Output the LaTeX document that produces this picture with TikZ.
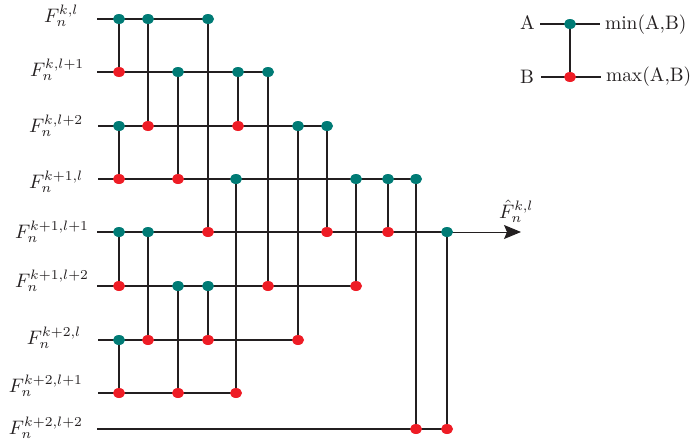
\documentclass[tikz,border=0pt]{standalone}
\usetikzlibrary{shapes.geometric,backgrounds,arrows.meta}
\definecolor{dotteal}{HTML}{007B75}
\definecolor{dotred}{HTML}{EE1C25}
\definecolor{wirecol}{HTML}{231F20}
\tikzset{
  lab/.style={anchor=base west,inner sep=0pt,outer sep=0pt,scale=1.95,text=wirecol},
  dotmin/.style={ellipse,fill=dotteal,minimum width=12pt,minimum height=10pt,inner sep=0pt},
  dotmax/.style={ellipse,fill=dotred,minimum width=12pt,minimum height=10pt,inner sep=0pt},
  wire/.style={draw=wirecol,line width=2pt},
  outarrow/.style={draw=wirecol,line width=1pt,-{Stealth[length=17pt,width=14pt,inset=3pt]}}
}
\begin{document}
\begin{tikzpicture}[x=1pt,y=-1pt]
\useasboundingbox (0,0) rectangle (691,442);
% labels
\node[lab] (l1) at (44,22) {$F_n^{k,l}$};
\node[lab] (l2) at (30,76) {$F_n^{k,l+1}$};
\node[lab] (l3) at (29,132) {$F_n^{k,l+2}$};
\node[lab] (l4) at (29,188) {$F_n^{k+1,l}$};
\node[lab] (l5) at (15,238) {$F_n^{k+1,l+1}$};
\node[lab] (l6) at (15,287) {$F_n^{k+1,l+2}$};
\node[lab] (l7) at (27,344) {$F_n^{k+2,l}$};
\node[lab] (l8) at (9,392) {$F_n^{k+2,l+1}$};
\node[lab] (l9) at (9,434) {$F_n^{k+2,l+2}$};
\node[lab] (fhat) at (499,218) {$\hat F_n^{k,l}$};
\node[lab] (la) at (520,29) {A};
\node[lab] (lb) at (520,83) {B};
\node[lab] (lmin) at (605,29) {min(A,B)};
\node[lab] (lmax) at (606,81) {max(A,B)};
% wire starts and ends
\coordinate (s1) at (97,19);
\coordinate (s2) at (97,72);
\coordinate (s3) at (98,126);
\coordinate (s4) at (98,179);
\coordinate (s5) at (97,232);
\coordinate (s6) at (97,286);
\coordinate (s7) at (98,340);
\coordinate (s8) at (98,393);
\coordinate (s9) at (97,429);
\coordinate (e5) at (521,232);
\coordinate (sa) at (540,24);
\coordinate (ea) at (600,24);
\coordinate (sb) at (541,77);
\coordinate (eb) at (601,77);
% comparators
\node[dotmin] (a1) at (119,19) {};    \node[dotmax] (b1) at (119,72) {};
\node[dotmin] (a2) at (148,19) {};    \node[dotmax] (b2) at (148,126) {};
\node[dotmin] (a3) at (208,19) {};    \node[dotmax] (b3) at (208,232) {};
\node[dotmin] (a4) at (178,72) {};    \node[dotmax] (b4) at (178,179) {};
\node[dotmin] (a5) at (238,72) {};    \node[dotmax] (b5) at (238,126) {};
\node[dotmin] (a6) at (268,72) {};    \node[dotmax] (b6) at (268,286) {};
\node[dotmin] (a7) at (119,126) {};   \node[dotmax] (b7) at (119,179) {};
\node[dotmin] (a8) at (298,126) {};   \node[dotmax] (b8) at (298,340) {};
\node[dotmin] (a9) at (327,126) {};   \node[dotmax] (b9) at (327,232) {};
\node[dotmin] (a10) at (236,179) {};  \node[dotmax] (b10) at (236,393) {};
\node[dotmin] (a11) at (356,179) {};  \node[dotmax] (b11) at (356,286) {};
\node[dotmin] (a12) at (388,179) {};  \node[dotmax] (b12) at (388,232) {};
\node[dotmin] (a13) at (416,179) {};  \node[dotmax] (b13) at (416,429) {};
\node[dotmin] (a14) at (119,232) {};  \node[dotmax] (b14) at (119,286) {};
\node[dotmin] (a15) at (148,232) {};  \node[dotmax] (b15) at (148,340) {};
\node[dotmin] (a16) at (447,232) {};  \node[dotmax] (b16) at (447,429) {};
\node[dotmin] (a17) at (178,286) {};  \node[dotmax] (b17) at (178,393) {};
\node[dotmin] (a18) at (208,286) {};  \node[dotmax] (b18) at (208,340) {};
\node[dotmin] (a19) at (119,340) {};  \node[dotmax] (b19) at (119,393) {};
\node[dotmin] (am) at (570,24) {};    \node[dotmax] (bm) at (570,77) {};
\begin{scope}[on background layer]
\draw[wire] (s1) -- (a3.center);
\draw[wire] (s2) -- (a6.center);
\draw[wire] (s3) -- (a9.center);
\draw[wire] (s4) -- (a13.center);
\draw[outarrow] (s5) -- (e5);
\draw[wire] (s5) -- (a16.center);
\draw[wire] (s6) -- (b11.center);
\draw[wire] (s7) -- (b8.center);
\draw[wire] (s8) -- (b10.center);
\draw[wire] (s9) -- (b16.center);
\draw[wire] (sa) -- (ea);
\draw[wire] (sb) -- (eb);
\foreach \i in {1,...,19}{\draw[wire] (a\i.center) -- (b\i.center);}
\draw[wire] (am.center) -- (bm.center);
\end{scope}
\end{tikzpicture}
\end{document}
